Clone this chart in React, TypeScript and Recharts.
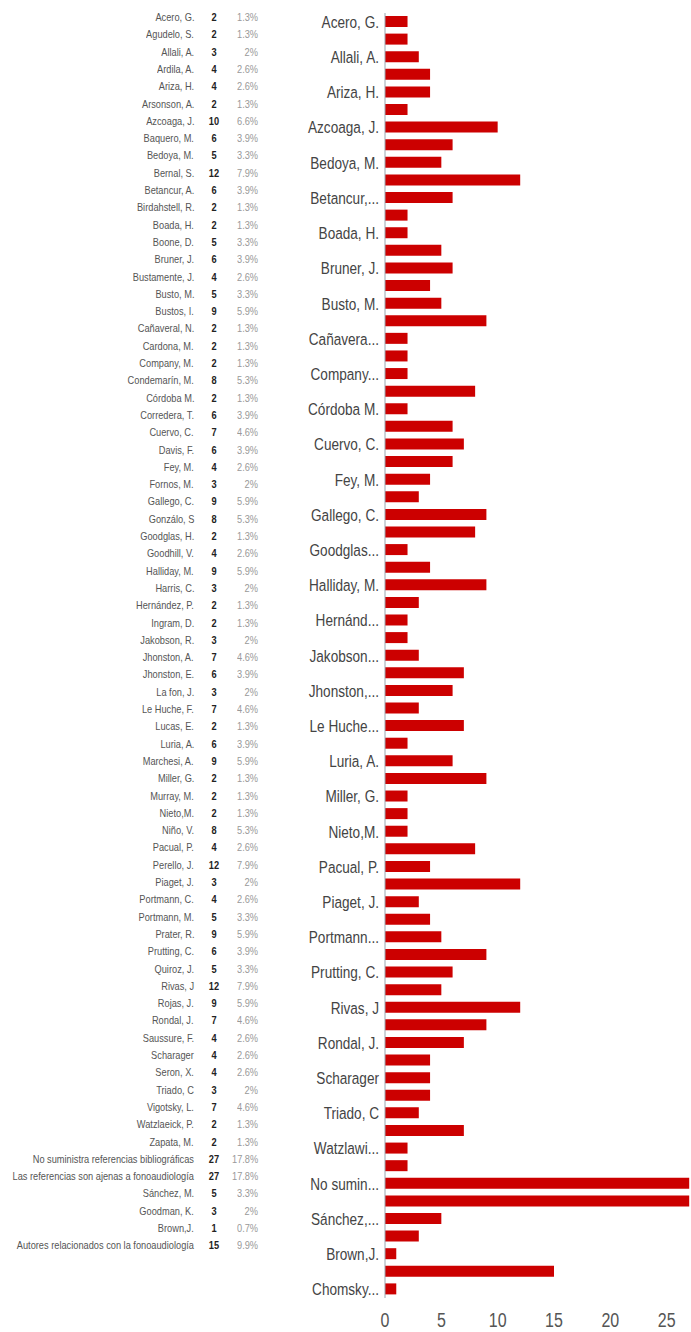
import React from "react";
import { BarChart, Bar, XAxis, YAxis } from "recharts";

const authors: string[] = [
  "Acero, G.", "Agudelo, S.", "Allali, A.", "Ardila, A.", "Ariza, H.", "Arsonson, A.",
  "Azcoaga, J.", "Baquero, M.", "Bedoya, M.", "Bernal, S.", "Betancur, A.", "Birdahstell, R.",
  "Boada, H.", "Boone, D.", "Bruner, J.", "Bustamente, J.", "Busto, M.", "Bustos, I.",
  "Cañaveral, N.", "Cardona, M.", "Company, M.", "Condemarín, M.", "Córdoba M.", "Corredera, T.",
  "Cuervo, C.", "Davis, F.", "Fey, M.", "Fornos, M.", "Gallego, C.", "Gonzálo, S",
  "Goodglas, H.", "Goodhill, V.", "Halliday, M.", "Harris, C.", "Hernández, P.", "Ingram, D.",
  "Jakobson, R.", "Jhonston, A.", "Jhonston, E.", "La fon, J.", "Le Huche, F.", "Lucas, E.",
  "Luria, A.", "Marchesi, A.", "Miller, G.", "Murray, M.", "Nieto,M.", "Niño, V.",
  "Pacual, P.", "Perello, J.", "Piaget, J.", "Portmann, C.", "Portmann, M.", "Prater, R.",
  "Prutting, C.", "Quiroz, J.", "Rivas, J", "Rojas, J.", "Rondal, J.", "Saussure, F.",
  "Scharager", "Seron, X.", "Triado, C", "Vigotsky, L.", "Watzlaeick, P.", "Zapata, M.",
  "No suministra referencias bibliográficas", "Las referencias son ajenas a fonoaudiología",
  "Sánchez, M.", "Goodman, K.", "Brown,J.", "Autores relacionados con la fonoaudiología",
  "Chomsky, N.",
];

const counts: number[] = [
  2, 2, 3, 4, 4, 2,
  10, 6, 5, 12, 6, 2,
  2, 5, 6, 4, 5, 9,
  2, 2, 2, 8, 2, 6,
  7, 6, 4, 3, 9, 8,
  2, 4, 9, 3, 2, 2,
  3, 7, 6, 3, 7, 2,
  6, 9, 2, 2, 2, 8,
  4, 12, 3, 4, 5, 9,
  6, 5, 12, 9, 7, 4,
  4, 4, 3, 7, 2, 2,
  27, 27,
  5, 3, 1, 15,
  1,
];

const percents: string[] = [
  "1.3%", "1.3%", "2%", "2.6%", "2.6%", "1.3%",
  "6.6%", "3.9%", "3.3%", "7.9%", "3.9%", "1.3%",
  "1.3%", "3.3%", "3.9%", "2.6%", "3.3%", "5.9%",
  "1.3%", "1.3%", "1.3%", "5.3%", "1.3%", "3.9%",
  "4.6%", "3.9%", "2.6%", "2%", "5.9%", "5.3%",
  "1.3%", "2.6%", "5.9%", "2%", "1.3%", "1.3%",
  "2%", "4.6%", "3.9%", "2%", "4.6%", "1.3%",
  "3.9%", "5.9%", "1.3%", "1.3%", "1.3%", "5.3%",
  "2.6%", "7.9%", "2%", "2.6%", "3.3%", "5.9%",
  "3.9%", "3.3%", "7.9%", "5.9%", "4.6%", "2.6%",
  "2.6%", "2.6%", "2%", "4.6%", "1.3%", "1.3%",
  "17.8%", "17.8%",
  "3.3%", "2%", "0.7%", "9.9%",
];

// Labels shown on the bar chart's category axis (every other category)
const axisLabels: string[] = [
  "Acero, G.", "Allali, A.", "Ariza, H.", "Azcoaga, J.", "Bedoya, M.", "Betancur,...",
  "Boada, H.", "Bruner, J.", "Busto, M.", "Cañavera...", "Company...", "Córdoba M.",
  "Cuervo, C.", "Fey, M.", "Gallego, C.", "Goodglas...", "Halliday, M.", "Hernánd...",
  "Jakobson...", "Jhonston,...", "Le Huche...", "Luria, A.", "Miller, G.", "Nieto,M.",
  "Pacual, P.", "Piaget, J.", "Portmann...", "Prutting, C.", "Rivas, J", "Rondal, J.",
  "Scharager", "Triado, C", "Watzlawi...", "No sumin...", "Sánchez,...", "Brown,J.",
  "Chomsky...",
];

const xTicks: number[] = [0, 5, 10, 15, 20, 25];

const data = authors.map((name, i) => ({ name, value: counts[i] }));

const FONT = "'Liberation Sans', Arial, sans-serif";
const SQUEEZE = 0.8;
const TABLE_SQUEEZE = 0.84;

const YTick = (props: any) => {
  const { x, y, index } = props;
  if (index % 2 !== 0) return null;
  const label = axisLabels[index / 2] ?? "";
  return (
    <text
      transform={`translate(${x + 2},${y}) scale(${SQUEEZE},1)`}
      x={0}
      y={0}
      textAnchor="end"
      dominantBaseline="central"
      fontFamily={FONT}
      fontSize={17}
      fill="#444"
    >
      {label}
    </text>
  );
};

const XTick = (props: any) => {
  const { x, payload } = props;
  return (
    <text
      transform={`translate(${x},1320) scale(${SQUEEZE},1)`}
      x={0}
      y={0}
      textAnchor="middle"
      dominantBaseline="central"
      fontFamily={FONT}
      fontSize={20}
      fill="#555"
    >
      {payload.value}
    </text>
  );
};

const ROW0 = 17;
const ROW_STEP = 17.3;

const cellBase: React.CSSProperties = {
  position: "absolute",
  height: 14,
  lineHeight: "14px",
  fontFamily: FONT,
  fontSize: 11,
  whiteSpace: "nowrap",
};

const Table = () => (
  <div>
    {percents.map((p, i) => {
      const top = ROW0 + i * ROW_STEP - 7;
      return (
        <React.Fragment key={i}>
          <div
            style={{
              ...cellBase,
              top,
              right: 691 - 194,
              color: "#555",
              textAlign: "right",
              transform: `scaleX(${TABLE_SQUEEZE})`,
              transformOrigin: "right center",
            }}
          >
            {authors[i]}
          </div>
          <div
            style={{
              ...cellBase,
              top,
              left: 204,
              width: 20,
              fontWeight: "bold",
              color: "#222",
              textAlign: "center",
              transform: `scaleX(${TABLE_SQUEEZE})`,
              transformOrigin: "center center",
            }}
          >
            {counts[i]}
          </div>
          <div
            style={{
              ...cellBase,
              top,
              right: 691 - 258,
              color: "#999",
              textAlign: "right",
              transform: `scaleX(${TABLE_SQUEEZE})`,
              transformOrigin: "right center",
            }}
          >
            {p}
          </div>
        </React.Fragment>
      );
    })}
  </div>
);

export default function App() {
  return (
    <div
      style={{
        position: "absolute",
        left: 0,
        top: 0,
        width: 691,
        height: 1332,
        overflow: "hidden",
        background: "#fff",
      }}
    >
      <Table />
      <div style={{ position: "absolute", left: 0, top: 0 }}>
        <BarChart
          layout="vertical"
          width={728}
          height={1332}
          data={data}
          margin={{ top: 13, right: 5, bottom: 0, left: 0 }}
        >
          <XAxis
            type="number"
            domain={[0, 30]}
            ticks={xTicks}
            axisLine={false}
            tickLine={false}
            height={34}
            tick={<XTick />}
          />
          <YAxis
            type="category"
            dataKey="name"
            width={385}
            interval={0}
            tickLine={false}
            axisLine={{ stroke: "#9aa6b0", strokeWidth: 1 }}
            tick={<YTick />}
          />
          <Bar dataKey="value" fill="#cc0000" barSize={11} isAnimationActive={false} />
        </BarChart>
      </div>
    </div>
  );
}
